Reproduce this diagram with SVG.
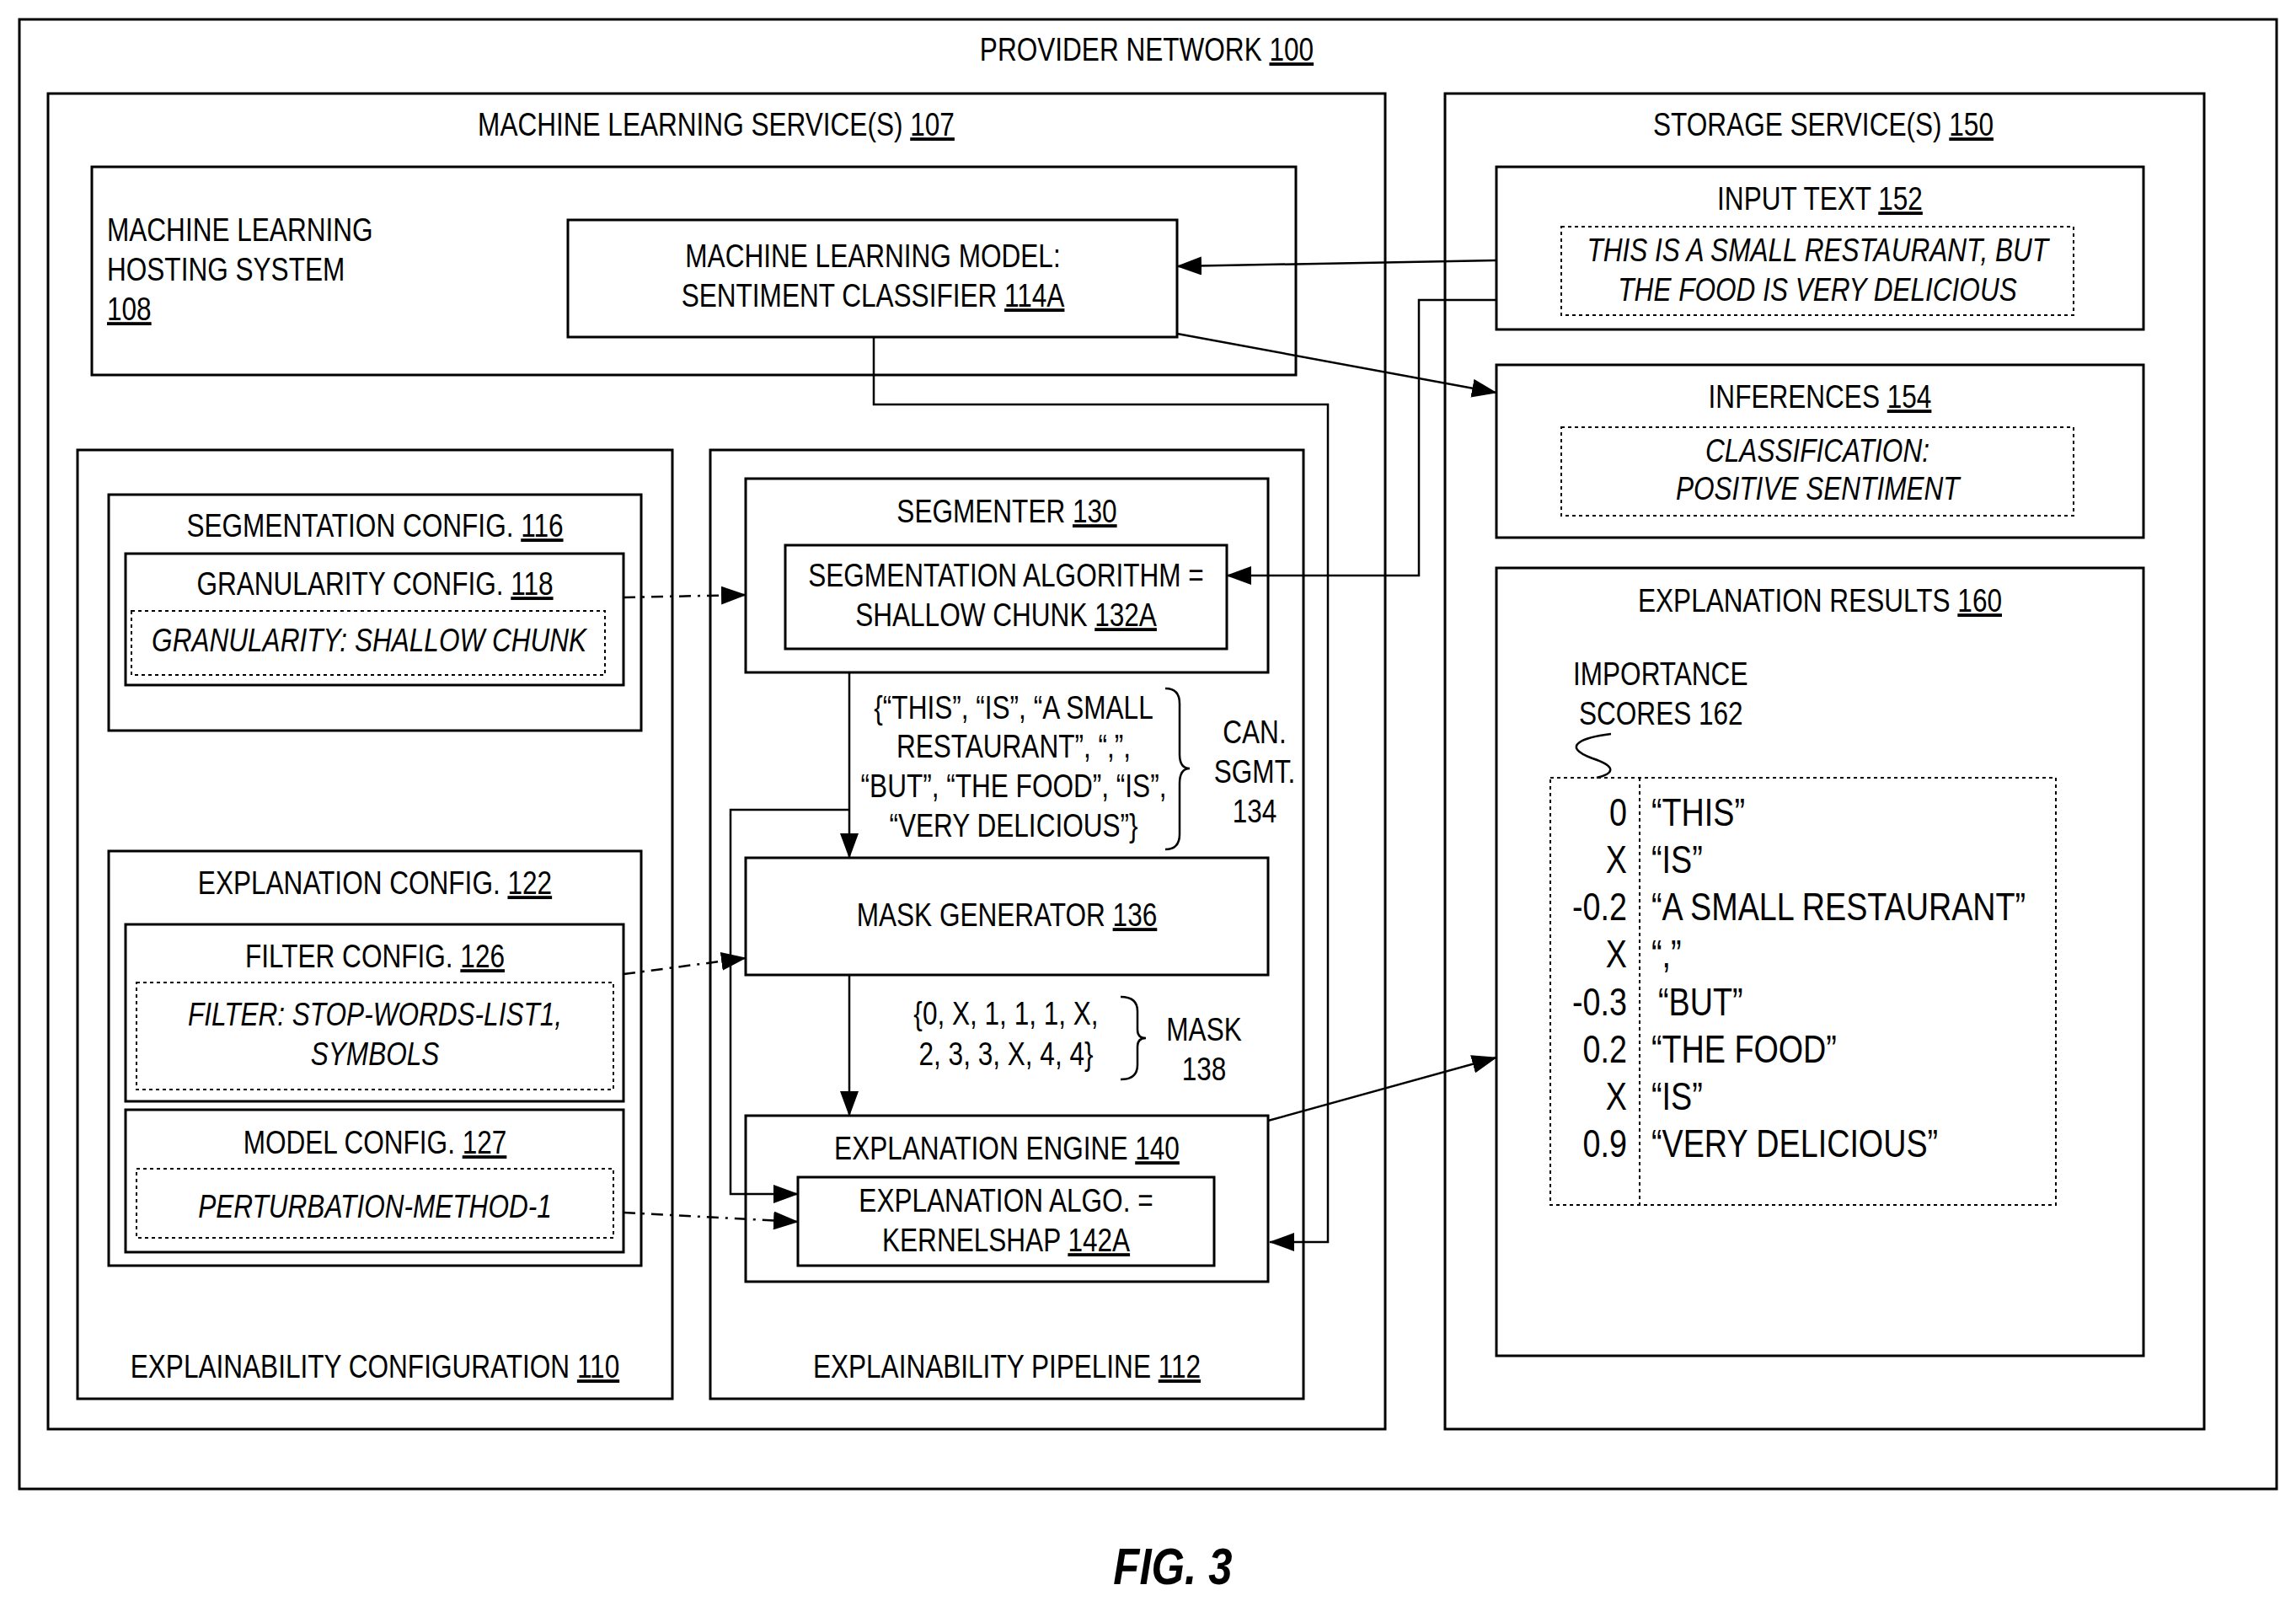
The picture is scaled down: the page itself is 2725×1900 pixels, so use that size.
<svg xmlns="http://www.w3.org/2000/svg" width="2725" height="1900" viewBox="0 0 2725 1900">
<style>
text{font-family:"Liberation Sans",Arial,sans-serif;font-size:38.5px;fill:#000;transform-box:fill-box;transform-origin:left center;transform:scaleX(0.82)}
.c{text-anchor:middle;transform-origin:center center}
.e{text-anchor:end;transform-origin:right center}
.i{font-style:italic}
.u{text-decoration:underline}
.b{fill:#fff;stroke:#000;stroke-width:3}
.d{fill:none;stroke:#000;stroke-width:2;stroke-dasharray:4 4}
.l{fill:none;stroke:#000;stroke-width:2.5}
.dd{fill:none;stroke:#000;stroke-width:2.5;stroke-dasharray:14 8 3 8}
.big{font-size:46px}
</style>
<defs>
<marker id="ab" markerWidth="30" markerHeight="22" refX="29" refY="11" orient="auto" markerUnits="userSpaceOnUse" viewBox="0 0 30 22"><path d="M0,0 L30,11 L0,22 z" fill="#000"/></marker>
</defs>
<rect width="2725" height="1900" fill="#fff"/>
<g id="n100"><rect class="b" x="23" y="23" width="2679" height="1744"/><text class="c" x="1361" y="72">PROVIDER NETWORK <tspan class="u">100</tspan></text></g>
<g id="n107"><rect class="b" x="57" y="111" width="1587" height="1585"/><text class="c" x="850" y="161">MACHINE LEARNING SERVICE(S) <tspan class="u">107</tspan></text></g>
<g id="n150"><rect class="b" x="1715" y="111" width="901" height="1585"/><text class="c" x="2164" y="161">STORAGE SERVICE(S) <tspan class="u">150</tspan></text></g>
<g id="n108"><rect class="b" x="109" y="198" width="1429" height="247"/><text x="127" y="286">MACHINE LEARNING</text><text x="127" y="333">HOSTING SYSTEM</text><text x="127" y="380" class="u">108</text></g>
<g id="n114"><rect class="b" x="674" y="261" width="723" height="139"/><text class="c" x="1036" y="317">MACHINE LEARNING MODEL:</text><text class="c" x="1036" y="364">SENTIMENT CLASSIFIER <tspan class="u">114A</tspan></text></g>
<g id="n110"><rect class="b" x="92" y="534" width="706" height="1126"/><text class="c" x="445" y="1635">EXPLAINABILITY CONFIGURATION  <tspan class="u">110</tspan></text></g>
<g id="n112"><rect class="b" x="843" y="534" width="704" height="1126"/><text class="c" x="1195" y="1635">EXPLAINABILITY PIPELINE <tspan class="u">112</tspan></text></g>
<g id="n116"><rect class="b" x="129" y="587" width="632" height="280"/><text class="c" x="445" y="637">SEGMENTATION CONFIG. <tspan class="u">116</tspan></text></g>
<g id="n118"><rect class="b" x="149" y="657" width="591" height="156"/><text class="c" x="445" y="706">GRANULARITY CONFIG. <tspan class="u">118</tspan></text><rect class="d" x="156" y="725" width="562" height="76"/><text class="c i" x="438" y="773">GRANULARITY: SHALLOW CHUNK</text></g>
<g id="n122"><rect class="b" x="129" y="1010" width="632" height="492"/><text class="c" x="445" y="1061">EXPLANATION CONFIG. <tspan class="u">122</tspan></text></g>
<g id="n126"><rect class="b" x="149" y="1097" width="591" height="210"/><text class="c" x="445" y="1148">FILTER CONFIG. <tspan class="u">126</tspan></text><rect class="d" x="162" y="1166" width="566" height="127"/><text class="c i" x="445" y="1217">FILTER: STOP-WORDS-LIST1,</text><text class="c i" x="445" y="1264">SYMBOLS</text></g>
<g id="n127"><rect class="b" x="149" y="1317" width="591" height="169"/><text class="c" x="445" y="1369">MODEL CONFIG. <tspan class="u">127</tspan></text><rect class="d" x="162" y="1387" width="566" height="82"/><text class="c i" x="445" y="1445">PERTURBATION-METHOD-1</text></g>
<g id="n130"><rect class="b" x="885" y="568" width="620" height="230"/><text class="c" x="1195" y="620">SEGMENTER <tspan class="u">130</tspan></text><rect class="b" x="932" y="647" width="524" height="123"/><text class="c" x="1194" y="696">SEGMENTATION ALGORITHM =</text><text class="c" x="1194" y="743">SHALLOW CHUNK <tspan class="u">132A</tspan></text></g>
<g id="n136"><rect class="b" x="885" y="1018" width="620" height="139"/><text class="c" x="1195" y="1099">MASK GENERATOR <tspan class="u">136</tspan></text></g>
<g id="n140"><rect class="b" x="885" y="1324" width="620" height="197"/><text class="c" x="1195" y="1376">EXPLANATION ENGINE <tspan class="u">140</tspan></text><rect class="b" x="947" y="1397" width="494" height="105"/><text class="c" x="1194" y="1438">EXPLANATION ALGO.  =</text><text class="c" x="1194" y="1485">KERNELSHAP <tspan class="u">142A</tspan></text></g>
<g id="n152"><rect class="b" x="1776" y="198" width="768" height="193"/><text class="c" x="2160" y="249">INPUT TEXT  <tspan class="u">152</tspan></text><rect class="d" x="1853" y="269" width="608" height="105"/><text class="c i" x="2157" y="310">THIS IS A SMALL RESTAURANT, BUT</text><text class="c i" x="2157" y="357">THE FOOD IS VERY DELICIOUS</text></g>
<g id="n154"><rect class="b" x="1776" y="433" width="768" height="205"/><text class="c" x="2160" y="484">INFERENCES <tspan class="u">154</tspan></text><rect class="d" x="1853" y="507" width="608" height="105"/><text class="c i" x="2157" y="548">CLASSIFICATION:</text><text class="c i" x="2157" y="593">POSITIVE SENTIMENT</text></g>
<g id="n160"><rect class="b" x="1776" y="674" width="768" height="935"/><text class="c" x="2160" y="726">EXPLANATION RESULTS <tspan class="u">160</tspan></text>
<text x="1867" y="813">IMPORTANCE</text><text x="1874" y="860">SCORES 162</text>
<path class="l" d="M1912,871 C1880,875 1850,885 1890,900 C1920,910 1915,918 1895,923"/>
<rect class="d" x="1840" y="923" width="600" height="507"/><line class="d" x1="1946" y1="923" x2="1946" y2="1430"/>
<text class="big e" x="1931" y="980">0</text><text class="big e" x="1931" y="1036">X</text><text class="big e" x="1931" y="1092">-0.2</text><text class="big e" x="1931" y="1148">X</text><text class="big e" x="1931" y="1205">-0.3</text><text class="big e" x="1931" y="1261">0.2</text><text class="big e" x="1931" y="1317">X</text><text class="big e" x="1931" y="1373">0.9</text>
<text class="big" x="1960" y="980">“THIS”</text><text class="big" x="1960" y="1036">“IS”</text><text class="big" x="1960" y="1092">“A SMALL RESTAURANT”</text><text class="big" x="1960" y="1148">“,”</text><text class="big" x="1968" y="1205">“BUT”</text><text class="big" x="1960" y="1261">“THE FOOD”</text><text class="big" x="1960" y="1317">“IS”</text><text class="big" x="1960" y="1373">“VERY DELICIOUS”</text>
</g>
<g id="labels">
<text class="c" x="1203" y="853">{“THIS”, “IS”, “A SMALL</text><text class="c" x="1203" y="899">RESTAURANT”, “,”,</text><text class="c" x="1203" y="946">“BUT”, “THE FOOD”, “IS”,</text><text class="c" x="1203" y="993">“VERY DELICIOUS”}</text>
<path class="l" d="M1383,817 Q1400,817 1400,835 L1400,895 Q1400,912 1412,912 Q1400,912 1400,930 L1400,990 Q1400,1008 1383,1008"/>
<text class="c" x="1489" y="882">CAN.</text><text class="c" x="1489" y="929">SGMT.</text><text class="c" x="1489" y="976">134</text>
<text class="c" x="1194" y="1216">{0, X, 1, 1, 1, X,</text><text class="c" x="1194" y="1264">2, 3, 3, X, 4, 4}</text>
<path class="l" d="M1330,1183 Q1350,1183 1350,1200 L1350,1222 Q1350,1232 1360,1232 Q1350,1232 1350,1242 L1350,1264 Q1350,1281 1330,1281"/>
<text class="c" x="1429" y="1235">MASK</text><text class="c" x="1429" y="1282">138</text>
<text x="1392" y="1880" class="c i" style="font-weight:bold;font-size:62px">FIG. 3</text>
</g>
<g id="connectors">
<line class="l" x1="1776" y1="309" x2="1397" y2="316" marker-end="url(#ab)"/>
<polyline class="l" points="1776,356 1684,356 1684,683 1456,683" marker-end="url(#ab)"/>
<line class="l" x1="1397" y1="396" x2="1776" y2="466" marker-end="url(#ab)"/>
<polyline class="l" points="1037,400 1037,480 1576,480 1576,1474 1507,1474" marker-end="url(#ab)"/>
<line class="l" x1="1008" y1="798" x2="1008" y2="1018" marker-end="url(#ab)"/>
<polyline class="l" points="1008,961 867,961 867,1417 947,1417" marker-end="url(#ab)"/>
<line class="l" x1="1008" y1="1157" x2="1008" y2="1324" marker-end="url(#ab)"/>
<line class="dd" x1="740" y1="709" x2="885" y2="706" marker-end="url(#ab)"/>
<line class="dd" x1="740" y1="1156" x2="885" y2="1137" marker-end="url(#ab)"/>
<line class="dd" x1="740" y1="1439" x2="947" y2="1450" marker-end="url(#ab)"/>
<line class="l" x1="1505" y1="1330" x2="1776" y2="1255" marker-end="url(#ab)"/>
</g>
</svg>
